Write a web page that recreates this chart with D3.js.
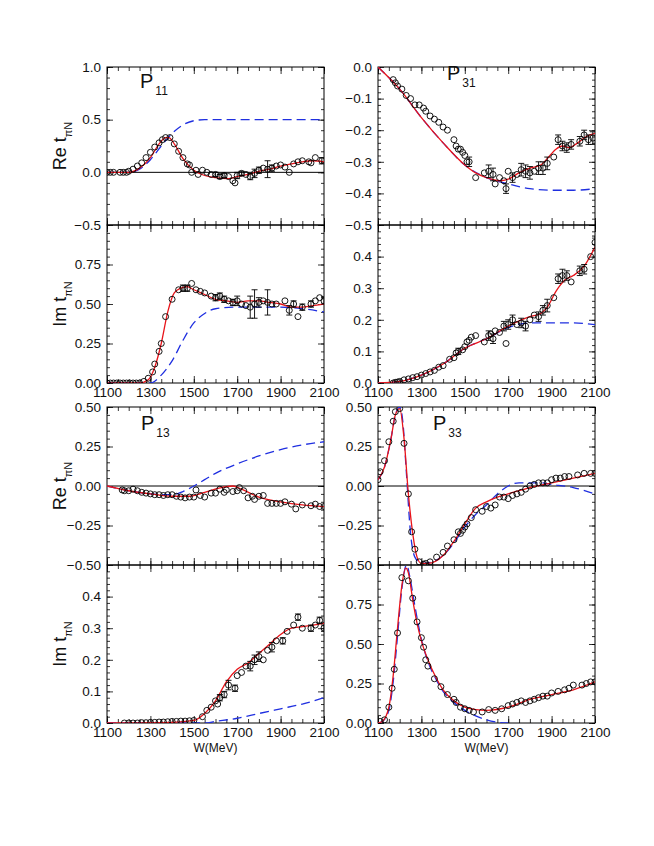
<!DOCTYPE html>
<html><head><meta charset="utf-8">
<script src="https://cdn.jsdelivr.net/npm/d3@7"></script>
<style>body{margin:0;background:#fff} text{font-family:"Liberation Sans",Arial,sans-serif}</style>
</head><body>
<svg id="c" width="654" height="846"></svg>
<script>
// W (MeV) grid, shared by all panels
const xTicks = [1100, 1300, 1500, 1700, 1900, 2100];

// ---- P11 ----
const p11ReFit = [[1100,0],[1200,0],[1250,0.04],[1300,0.14],[1340,0.27],[1370,0.33],[1385,0.33],[1410,0.27],[1450,0.13],[1500,0.02],[1550,-0.03],[1600,-0.05],[1660,-0.06],[1700,-0.04],[1750,-0.02],[1800,0.01],[1850,0.03],[1900,0.06],[1950,0.08],[2000,0.1],[2050,0.11],[2100,0.1]];
const p11ReAlt = [[1100,0],[1200,0],[1250,0.03],[1300,0.12],[1350,0.25],[1400,0.37],[1450,0.45],[1500,0.49],[1550,0.5],[1600,0.5],[2100,0.5]];
const p11ReData = [[1100,0],[1115,0],[1130,0],[1160,0],[1175,0],[1190,0],[1200,0.01],[1220,0.03],[1240,0.06],[1260,0.09],[1280,0.14],[1300,0.19],[1320,0.24],[1340,0.28],[1355,0.31],[1370,0.33],[1390,0.33],[1410,0.27],[1430,0.2],[1450,0.14],[1470,0.08],[1480,0.07],[1490,0],[1510,0.02],[1520,-0.02],[1540,0.02],[1560,0],[1580,-0.02],[1600,-0.02,0.02],[1620,-0.04,0.02],[1640,-0.03,0.02],[1660,-0.04],[1680,-0.08],[1690,-0.1],[1700,-0.03,0.03],[1720,-0.01,0.02],[1740,-0.02],[1760,-0.04,0.03],[1780,-0.01,0.04],[1800,0.02,0.03],[1820,0.04],[1840,0.03,0.08],[1860,0.04,0.03],[1880,0.06],[1900,0.07],[1920,0.05],[1940,0],[1960,0.08],[1980,0.1],[2000,0.11],[2030,0.1],[2040,0.09],[2060,0.14],[2090,0.11,0.03]];
const p11ImFit = [[1100,0],[1250,0],[1290,0.02],[1320,0.1],[1350,0.25],[1380,0.45],[1410,0.57],[1440,0.6],[1470,0.61],[1500,0.59],[1550,0.56],[1600,0.53],[1650,0.52],[1700,0.51],[1750,0.52],[1800,0.52],[1850,0.51],[1900,0.5],[1950,0.48],[2000,0.48],[2050,0.49],[2100,0.5]];
const p11ImAlt = [[1100,0],[1300,0],[1350,0.05],[1400,0.14],[1450,0.27],[1500,0.38],[1550,0.44],[1600,0.47],[1700,0.48],[1800,0.48],[1900,0.48],[2000,0.47],[2100,0.45]];
const p11ImData = [[1100,0],[1115,0],[1130,0],[1145,0],[1160,0],[1175,0],[1190,0],[1205,0],[1220,0],[1235,0],[1250,0],[1270,0.01],[1290,0.03],[1310,0.07],[1320,0.12],[1340,0.2],[1350,0.25],[1370,0.42],[1400,0.53],[1430,0.59],[1450,0.6,0.02],[1470,0.6,0.02],[1490,0.63],[1510,0.59],[1530,0.58],[1550,0.57],[1580,0.55],[1600,0.54,0.02],[1620,0.55,0.02],[1640,0.53,0.02],[1660,0.52],[1680,0.51,0.02],[1700,0.52,0.03],[1720,0.5],[1740,0.49],[1760,0.48,0.07],[1780,0.5,0.09],[1800,0.51,0.03],[1820,0.52],[1840,0.51,0.08],[1860,0.5],[1880,0.5],[1920,0.52],[1940,0.46,0.03],[1960,0.5,0.02],[1980,0.42],[2000,0.48,0.02],[2040,0.5,0.02],[2060,0.52],[2080,0.54],[2100,0.52,0.02]];

// ---- P31 ----
const p31ReFit = [[1100,0],[1200,-0.07],[1300,-0.16],[1400,-0.24],[1500,-0.31],[1550,-0.335],[1600,-0.35],[1660,-0.36],[1700,-0.355],[1750,-0.335],[1800,-0.32],[1850,-0.31],[1880,-0.29],[1920,-0.26],[1950,-0.25],[1980,-0.255],[2020,-0.24],[2060,-0.22],[2100,-0.21]];
const p31ReAlt = [[1100,0],[1200,-0.07],[1300,-0.16],[1400,-0.24],[1500,-0.31],[1600,-0.35],[1700,-0.37],[1800,-0.385],[1900,-0.39],[2000,-0.39],[2100,-0.385]];
const p31ReData = [[1170,-0.04],[1180,-0.05],[1190,-0.06],[1210,-0.07],[1230,-0.09],[1250,-0.1],[1270,-0.12],[1290,-0.12],[1310,-0.13],[1320,-0.14],[1340,-0.155],[1360,-0.165],[1380,-0.175],[1400,-0.19],[1420,-0.2],[1450,-0.23],[1460,-0.25],[1470,-0.26],[1480,-0.26],[1490,-0.27],[1500,-0.28],[1510,-0.3],[1520,-0.3,0.015],[1550,-0.35],[1590,-0.335],[1610,-0.33,0.02],[1630,-0.34,0.02],[1640,-0.37],[1660,-0.35],[1680,-0.36],[1690,-0.385,0.015],[1700,-0.33],[1720,-0.35,0.015],[1740,-0.34],[1760,-0.325,0.02],[1780,-0.33,0.02],[1800,-0.335,0.02],[1820,-0.33],[1840,-0.32,0.02],[1860,-0.32,0.02],[1880,-0.305,0.02],[1910,-0.285],[1930,-0.23,0.015],[1950,-0.25,0.015],[1970,-0.255,0.015],[1990,-0.245,0.015],[2030,-0.235,0.015],[2050,-0.215,0.015],[2070,-0.23,0.015],[2090,-0.225,0.02]];
const p31ImFit = [[1100,0],[1200,0.005],[1300,0.025],[1400,0.06],[1500,0.11],[1600,0.14],[1700,0.18],[1800,0.21],[1850,0.22],[1880,0.24],[1920,0.29],[1960,0.325],[2000,0.34],[2050,0.37],[2100,0.43]];
const p31ImAlt = [[1100,0],[1200,0.005],[1300,0.025],[1400,0.06],[1500,0.11],[1600,0.14],[1700,0.175],[1800,0.19],[1900,0.19],[2000,0.19],[2100,0.185]];
const p31ImData = [[1170,0],[1180,0.002],[1190,0.003],[1200,0.005],[1220,0.01],[1240,0.013],[1260,0.017],[1280,0.02],[1300,0.025],[1320,0.03],[1340,0.035],[1360,0.04],[1380,0.05],[1400,0.055],[1430,0.075],[1450,0.08],[1460,0.095],[1470,0.1,0.01],[1490,0.105],[1500,0.115],[1510,0.13],[1520,0.135],[1530,0.145],[1550,0.15],[1590,0.13],[1610,0.15,0.015],[1620,0.155],[1630,0.14,0.015],[1640,0.165],[1660,0.16],[1680,0.18,0.015],[1690,0.125],[1700,0.185,0.015],[1720,0.2,0.015],[1740,0.185],[1760,0.19,0.015],[1780,0.18,0.015],[1800,0.2],[1820,0.215],[1840,0.21,0.015],[1860,0.23,0.015],[1880,0.245,0.02],[1910,0.27],[1930,0.33,0.015],[1950,0.34,0.02],[1970,0.34,0.015],[1990,0.32],[2030,0.355,0.015],[2050,0.36,0.015],[2080,0.4],[2100,0.445,0.02]];

// ---- P13 ----
const p13ReFit = [[1100,0],[1200,-0.03],[1300,-0.05],[1400,-0.065],[1480,-0.065],[1550,-0.04],[1620,-0.012],[1680,0],[1720,-0.02],[1800,-0.07],[1900,-0.1],[2000,-0.12],[2100,-0.13]];
const p13ReAlt = [[1100,0],[1200,-0.03],[1300,-0.05],[1400,-0.055],[1450,-0.035],[1500,0],[1550,0.04],[1600,0.08],[1700,0.14],[1800,0.19],[1900,0.23],[2000,0.26],[2100,0.28]];
const p13ReData = [[1170,-0.025],[1180,-0.03],[1200,-0.03],[1220,-0.02],[1240,-0.03],[1260,-0.04],[1280,-0.045],[1300,-0.05],[1320,-0.055],[1340,-0.055],[1360,-0.06],[1380,-0.055],[1400,-0.055],[1420,-0.065],[1440,-0.07],[1460,-0.075],[1480,-0.07],[1500,-0.07],[1510,-0.025],[1530,-0.06],[1550,-0.07],[1580,-0.045],[1600,-0.045],[1620,-0.02],[1640,-0.04],[1650,-0.025],[1680,-0.035],[1700,-0.03],[1710,-0.01],[1730,-0.03],[1750,-0.075],[1770,-0.065],[1780,-0.085],[1800,-0.065],[1820,-0.06],[1840,-0.11],[1860,-0.11],[1880,-0.11],[1900,-0.11],[1920,-0.1],[1950,-0.115],[1970,-0.145],[2000,-0.12],[2040,-0.125],[2060,-0.115],[2080,-0.13],[2100,-0.13]];
const p13ImFit = [[1100,0],[1400,0.002],[1500,0.008],[1550,0.03],[1600,0.07],[1650,0.13],[1700,0.17],[1750,0.19],[1800,0.22],[1850,0.25],[1900,0.28],[1950,0.3],[2000,0.305],[2100,0.315]];
const p13ImAlt = [[1100,0],[1550,0],[1600,0.005],[1700,0.015],[1800,0.03],[1900,0.045],[2000,0.06],[2100,0.08]];
const p13ImData = [[1180,0],[1200,0],[1220,0],[1240,0],[1260,0.001],[1280,0.001],[1300,0.002],[1320,0.002],[1340,0.003],[1360,0.003],[1380,0.004],[1400,0.005],[1420,0.005],[1440,0.006],[1460,0.006],[1480,0.007],[1500,0.008],[1540,0.02],[1560,0.04],[1580,0.05],[1600,0.07],[1610,0.06],[1620,0.08,0.01],[1640,0.09,0.01],[1660,0.12,0.015],[1690,0.11,0.01],[1700,0.15],[1720,0.16],[1740,0.18],[1760,0.18,0.015],[1780,0.2,0.015],[1800,0.21,0.015],[1820,0.2],[1840,0.23],[1860,0.24,0.015],[1880,0.26],[1910,0.26,0.01],[1930,0.29],[1960,0.31],[1980,0.335,0.01],[2000,0.3],[2040,0.3,0.01],[2060,0.31],[2080,0.325,0.01],[2100,0.3,0.01]];

// ---- P33 ----
const p33ReFit = [[1100,0.04],[1130,0.12],[1160,0.3],[1180,0.45],[1200,0.49],[1220,0.3],[1240,-0.05],[1260,-0.3],[1280,-0.45],[1300,-0.49],[1330,-0.49],[1400,-0.44],[1450,-0.35],[1500,-0.24],[1550,-0.14],[1600,-0.1],[1650,-0.07],[1700,-0.05],[1800,-0.01],[1900,0.02],[2000,0.05],[2100,0.08]];
const p33ReAlt = [[1100,0.04],[1130,0.12],[1160,0.3],[1180,0.45],[1200,0.5],[1215,0.4],[1230,0.1],[1250,-0.3],[1270,-0.45],[1300,-0.49],[1350,-0.48],[1400,-0.44],[1450,-0.36],[1500,-0.26],[1550,-0.18],[1600,-0.12],[1650,-0.05],[1700,0],[1750,0.02],[1800,0.02],[1850,0.02],[1900,0.01],[2000,-0.01],[2100,-0.05]];
const p33ReData = [[1100,0.04],[1110,0.09],[1130,0.16],[1150,0.28],[1170,0.41],[1180,0.47],[1200,0.49],[1220,0.27],[1240,-0.05],[1255,-0.29],[1270,-0.4],[1290,-0.48],[1310,-0.495],[1320,-0.49],[1340,-0.48],[1370,-0.45],[1400,-0.42],[1420,-0.38],[1450,-0.34],[1470,-0.29],[1480,-0.3],[1490,-0.28],[1500,-0.26],[1510,-0.24],[1530,-0.2],[1550,-0.15],[1580,-0.16],[1600,-0.13],[1620,-0.14],[1640,-0.12],[1660,-0.07],[1680,-0.07],[1700,-0.08],[1720,-0.06],[1740,-0.05],[1760,-0.04],[1780,-0.02],[1800,0],[1820,0.01],[1840,0.02],[1860,0.02],[1880,0.02],[1900,0.04],[1920,0.05],[1940,0.05],[1960,0.06],[1980,0.06],[2020,0.07],[2050,0.08],[2080,0.08],[2100,0.08]];
const p33ImFit = [[1100,0],[1120,0.01],[1150,0.1],[1170,0.3],[1190,0.6],[1210,0.87],[1228,0.98],[1240,0.95],[1260,0.78],[1280,0.63],[1300,0.52],[1330,0.4],[1370,0.28],[1400,0.21],[1450,0.14],[1500,0.1],[1550,0.085],[1600,0.08],[1700,0.1],[1800,0.15],[1900,0.18],[2000,0.21],[2100,0.26]];
const p33ImAlt = [[1100,0],[1120,0.01],[1150,0.08],[1170,0.26],[1190,0.55],[1210,0.85],[1232,1.0],[1250,0.9],[1270,0.74],[1300,0.53],[1330,0.39],[1370,0.27],[1400,0.2],[1450,0.13],[1500,0.08],[1550,0.045],[1600,0.02],[1650,0.005],[1700,0]];
const p33ImData = [[1110,0.01],[1130,0.02],[1150,0.1],[1165,0.22],[1175,0.34],[1190,0.57],[1210,0.92],[1240,0.9],[1260,0.79],[1280,0.64],[1300,0.54],[1310,0.48],[1320,0.4],[1330,0.36],[1360,0.28],[1390,0.23],[1420,0.18],[1450,0.15],[1460,0.13],[1480,0.1],[1500,0.09],[1520,0.08],[1540,0.07],[1580,0.07],[1610,0.085],[1640,0.08],[1670,0.09],[1700,0.11],[1720,0.12],[1740,0.13],[1760,0.14],[1780,0.13],[1800,0.14],[1820,0.15],[1840,0.16],[1860,0.17],[1880,0.17],[1900,0.19],[1930,0.2],[1960,0.21],[1980,0.22],[2000,0.24],[2040,0.24],[2060,0.25],[2080,0.26],[2100,0.26]];

const panels = [
  {col:0,row:0,dom:[-0.5,1.0],ticks:[-0.5,0,0.5,1.0],fmt:'.1f',minor:0.1,zero:true,name:'11',ylab:'Re',fit:p11ReFit,alt:p11ReAlt,data:p11ReData},
  {col:0,row:1,dom:[0,1.0],ticks:[0,0.25,0.5,0.75],fmt:'.2f',minor:0.05,ylab:'Im',xlab:true,fit:p11ImFit,alt:p11ImAlt,data:p11ImData},
  {col:1,row:0,dom:[-0.5,0],ticks:[-0.5,-0.4,-0.3,-0.2,-0.1,0],fmt:'.1f',minor:0.02,name:'31',fit:p31ReFit,alt:p31ReAlt,data:p31ReData},
  {col:1,row:1,dom:[0,0.5],ticks:[0,0.1,0.2,0.3,0.4],fmt:'.1f',minor:0.02,xlab:true,fit:p31ImFit,alt:p31ImAlt,data:p31ImData},
  {col:0,row:2,dom:[-0.5,0.5],ticks:[-0.5,-0.25,0,0.25,0.5],fmt:'.2f',minor:0.05,zero:true,name:'13',ylab:'Re',fit:p13ReFit,alt:p13ReAlt,data:p13ReData},
  {col:0,row:3,dom:[0,0.5],ticks:[0,0.1,0.2,0.3,0.4],fmt:'.1f',minor:0.02,ylab:'Im',xlab:true,title:true,fit:p13ImFit,alt:p13ImAlt,data:p13ImData},
  {col:1,row:2,dom:[-0.5,0.5],ticks:[-0.5,-0.25,0,0.25,0.5],fmt:'.2f',minor:0.05,zero:true,name:'33',fit:p33ReFit,alt:p33ReAlt,data:p33ReData},
  {col:1,row:3,dom:[0,1.0],ticks:[0,0.25,0.5,0.75],fmt:'.2f',minor:0.05,xlab:true,title:true,fit:p33ImFit,alt:p33ImAlt,data:p33ImData}
];
const nameX = [[140,88],[447,80],[141,430],[433,430]];

const svg = d3.select('#c');
const colX = [107, 378], W = 217, H = 158, rowY = [67, 225, 407, 565];
const fmtMinus = f => v => d3.format(f)(v).replace('-', '\u2212');

panels.forEach((p, i) => {
  const x0 = colX[p.col], y0 = rowY[p.row];
  const x = d3.scaleLinear().domain([1100, 2100]).range([x0, x0 + W]);
  const y = d3.scaleLinear().domain(p.dom).range([y0 + H, y0]);
  const g = svg.append('g');
  const cid = 'clip' + i;
  svg.append('clipPath').attr('id', cid).append('rect').attr('x', x0).attr('y', y0).attr('width', W).attr('height', H);

  // ticks inside on all four sides
  const minorY = d3.range(p.dom[0], p.dom[1] + 1e-9, p.minor);
  const minorX = d3.range(1100, 2101, 50);
  g.append('g').attr('transform', `translate(${x0},0)`).call(d3.axisLeft(y).tickValues(minorY).tickSize(-3).tickFormat(''));
  g.append('g').attr('transform', `translate(${x0 + W},0)`).call(d3.axisRight(y).tickValues(minorY).tickSize(-3).tickFormat(''));
  g.append('g').attr('transform', `translate(${x0},0)`).call(d3.axisLeft(y).tickValues(p.ticks).tickSize(-6).tickPadding(6).tickFormat(fmtMinus(p.fmt)));
  g.append('g').attr('transform', `translate(${x0 + W},0)`).call(d3.axisRight(y).tickValues(p.ticks).tickSize(-6).tickFormat(''));
  g.append('g').attr('transform', `translate(0,${y0 + H})`).call(d3.axisBottom(x).tickValues(minorX).tickSize(-4).tickFormat(''));
  g.append('g').attr('transform', `translate(0,${y0})`).call(d3.axisTop(x).tickValues(minorX).tickSize(-4).tickFormat(''));
  g.append('g').attr('transform', `translate(0,${y0 + H})`).call(d3.axisBottom(x).tickValues(xTicks).tickSize(-7).tickPadding(4).tickFormat(p.xlab ? d3.format('d') : ''));
  g.append('g').attr('transform', `translate(0,${y0})`).call(d3.axisTop(x).tickValues(xTicks).tickSize(-7).tickFormat(''));
  g.selectAll('.domain').remove();
  g.selectAll('.tick line').attr('stroke', '#000').attr('stroke-width', 0.8);
  g.selectAll('.tick text').attr('font-size', 13.5).attr('fill', '#111');
  g.append('rect').attr('x', x0).attr('y', y0).attr('width', W).attr('height', H).attr('fill', 'none').attr('stroke', '#000').attr('stroke-width', 1);

  if (p.zero) g.append('line').attr('x1', x0).attr('x2', x0 + W).attr('y1', y(0)).attr('y2', y(0)).attr('stroke', '#000').attr('stroke-width', 1);

  const line = d3.line().x(d => x(d[0])).y(d => y(d[1])).curve(d3.curveMonotoneX);
  const cg = g.append('g').attr('clip-path', `url(#${cid})`);
  cg.append('path').attr('d', line(p.alt)).attr('fill', 'none').attr('stroke', '#1f2fe0').attr('stroke-width', 1.3).attr('stroke-dasharray', '9,5');
  cg.append('path').attr('d', line(p.fit)).attr('fill', 'none').attr('stroke', '#e8141a').attr('stroke-width', 1.3);

  const pts = cg.selectAll('g.pt').data(p.data).join('g');
  pts.filter(d => d[2]).append('path')
    .attr('d', d => {
      const xa = x(d[0]), ya = y(d[1] - d[2]), yb = y(d[1] + d[2]);
      return `M${xa},${ya}V${yb}M${xa - 3},${ya}h6M${xa - 3},${yb}h6`;
    })
    .attr('stroke', '#000').attr('stroke-width', 0.9).attr('fill', 'none');
  pts.append('circle').attr('cx', d => x(d[0])).attr('cy', d => y(d[1])).attr('r', 3)
    .attr('fill', 'none').attr('stroke', '#000').attr('stroke-width', 0.9);

  if (p.name) {
    const [nx, ny] = nameX[Math.floor(i / 2)];
    const t = svg.append('text').attr('x', nx).attr('y', ny).attr('font-size', 20).attr('fill', '#111');
    t.append('tspan').text('P');
    t.append('tspan').attr('dy', 7).attr('dx', 2).attr('font-size', 12).text(p.name);
  }
  if (p.ylab) {
    const t = svg.append('text').attr('transform', `translate(66,${y0 + H / 2}) rotate(-90)`)
      .attr('text-anchor', 'middle').attr('font-size', 18).attr('fill', '#111');
    t.append('tspan').text(p.ylab + '  t');
    t.append('tspan').attr('dy', 6).attr('font-size', 11).text('\u03c0N');
  }
  if (p.title) {
    svg.append('text').attr('x', x0 + W / 2).attr('y', y0 + H + 29).attr('text-anchor', 'middle')
      .attr('font-size', 12).attr('fill', '#111').text('W(MeV)');
  }
});
</script>
</body></html>
